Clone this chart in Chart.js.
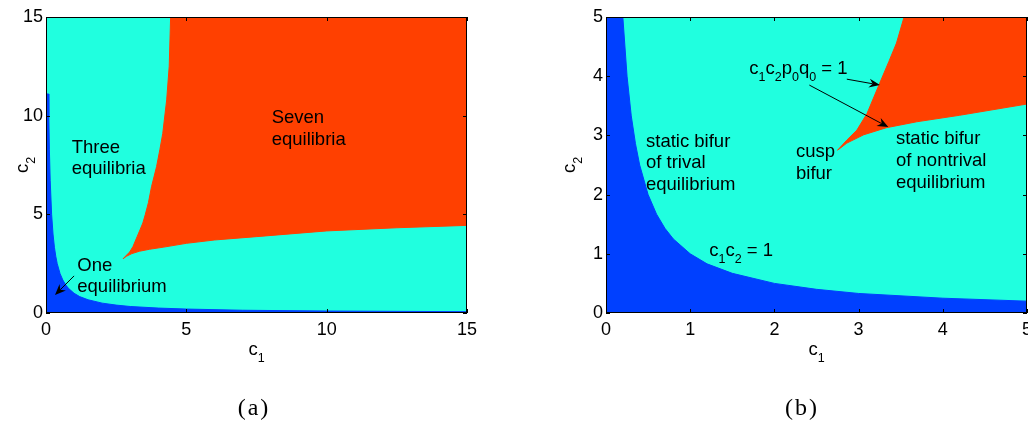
<!DOCTYPE html>
<html>
<head>
<meta charset="utf-8">
<script src="https://cdn.jsdelivr.net/npm/chart.js@4.4.1/dist/chart.umd.min.js"></script>
<style>
html,body{margin:0;padding:0;background:#fff;width:1028px;height:425px;overflow:hidden;position:relative}
canvas{position:absolute;top:0}
#ca{left:0}
#cb{left:560px}
</style>
</head>
<body>
<canvas id="ca" width="500" height="425"></canvas>
<canvas id="cb" width="520" height="425"></canvas>
<script>
// ---------------- data ----------------
const panelCaptions = ['(a)', '(b)'];
const axisMax = [15, 5];
const tickStep = [5, 1];
const gridMax = 15; // extent of the computed parameter map
const colorOne = '#0040FF';
const colorThree = '#20FFDF';
const colorSeven = '#FF4000';

// boundary of the "one equilibrium" region (c1 c2 = 1)
const oneEqC1 = [0, 0.09, 0.1, 0.12, 0.15, 0.2, 0.25, 0.3, 0.35, 0.4, 0.5, 0.6, 0.7, 0.8, 1.0, 1.2, 1.5, 2.0, 2.5, 3.0, 4.0, 5.0, 7.0, 10, 15];
const oneEqC2 = [11.1, 11.1, 10, 8.3, 6.7, 5.0, 4.0, 3.33, 2.86, 2.5, 2.0, 1.67, 1.43, 1.25, 1.0, 0.83, 0.67, 0.5, 0.4, 0.33, 0.25, 0.2, 0.14, 0.1, 0.067];

// boundaries of the "seven equilibria" region, both starting at the cusp
const sevenUpperC1 = [2.75, 2.86, 2.98, 3.10, 3.25, 3.36, 3.45, 3.54, 3.65, 3.76, 3.94, 4.06, 4.16, 4.30, 4.39, 4.44];
const sevenUpperC2 = [2.75, 2.92, 3.09, 3.37, 3.88, 4.25, 4.56, 5.0, 5.6, 6.4, 7.42, 8.3, 9.1, 10.8, 12.5, 15];
const sevenLowerC1 = [2.75, 2.86, 3.06, 3.33, 3.69, 4.2, 5.0, 6.0, 7.5, 10, 12.5, 15];
const sevenLowerC2 = [2.75, 2.87, 3.01, 3.13, 3.23, 3.34, 3.53, 3.70, 3.87, 4.16, 4.32, 4.44];

// ---------------- annotations ----------------
const annotA = {
  labels: [
    {x: 8.04, y: 9.61, lines: ['Seven', 'equilibria']},
    {x: 0.916, y: 8.12, lines: ['Three', 'equilibria']},
    {x: 1.115, y: 2.14, lines: ['One', 'equilibrium']}
  ],
  arrows: [{from: [1.0, 1.88], to: [0.32, 0.91]}],
  yTitleOffset: 18, caption: {text: panelCaptions[0], x: 253}
};
const annotB = {
  labels: [
    {x: 0.475, y: 2.81, lines: ['static bifur', 'of trival', 'equilibrium']},
    {x: 2.257, y: 2.63, lines: ['cusp', 'bifur']},
    {x: 3.444, y: 2.85, lines: ['static bifur', 'of nontrival', 'equilibrium']},
    {x: 1.702, y: 4.03, lines: ['c_1c_2p_0q_0 = 1']},
    {x: 1.227, y: 0.963, lines: ['c_1c_2 = 1']}
  ],
  arrows: [
    {from: [2.86, 3.95], to: [3.254, 3.85]},
    {from: [2.415, 3.85], to: [3.353, 3.14]}
  ],
  yTitleOffset: 31, caption: {text: panelCaptions[1], x: 241}
};

// ---------------- drawing helpers ----------------
const FONT = '"Liberation Sans", Arial, Helvetica, sans-serif';
const SERIF = '"Liberation Serif", "Times New Roman", serif';
const MAIN = 18.5, SUB = 12.5, DROP = 7, LINE_H = 21.7;

function parseRich(s) {
  const parts = [];
  for (let i = 0; i < s.length; i++) {
    if (s[i] === '_') { parts.push({t: s[i + 1], sub: true}); i++; }
    else if (parts.length && !parts[parts.length - 1].sub) parts[parts.length - 1].t += s[i];
    else parts.push({t: s[i], sub: false});
  }
  return parts;
}
function richWidth(ctx, s) {
  let w = 0;
  for (const p of parseRich(s)) { ctx.font = (p.sub ? SUB : MAIN) + 'px ' + FONT; w += ctx.measureText(p.t).width; }
  return w;
}
function drawRich(ctx, s, x, y) {
  let cx = x;
  ctx.textAlign = 'left'; ctx.textBaseline = 'alphabetic';
  for (const p of parseRich(s)) {
    ctx.font = (p.sub ? SUB : MAIN) + 'px ' + FONT;
    ctx.fillText(p.t, cx, y + (p.sub ? DROP : 0));
    cx += ctx.measureText(p.t).width;
  }
}
function drawArrow(ctx, x1, y1, x2, y2) {
  const ang = Math.atan2(y2 - y1, x2 - x1);
  const L = 11, W = 4.5, N = 7.5;
  ctx.beginPath(); ctx.moveTo(x1, y1);
  ctx.lineTo(x2 - N * Math.cos(ang), y2 - N * Math.sin(ang)); ctx.stroke();
  const c = Math.cos(ang), s = Math.sin(ang);
  const bx = x2 - L * c, by = y2 - L * s;
  const nx = x2 - N * c, ny = y2 - N * s;
  ctx.beginPath();
  ctx.moveTo(x2, y2);
  ctx.lineTo(bx - W * s, by + W * c);
  ctx.lineTo(nx, ny);
  ctx.lineTo(bx + W * s, by - W * c);
  ctx.closePath(); ctx.fill();
}

const decor = {
  id: 'decor',
  afterDraw(chart, args, o) {
    const {ctx, chartArea: a, scales: {x, y}} = chart;
    ctx.save();
    ctx.strokeStyle = '#000'; ctx.fillStyle = '#000'; ctx.lineWidth = 1;
    // axes box
    ctx.strokeRect(a.left + 0.5, a.top + 0.5, a.right - a.left - 1, a.bottom - a.top - 1);
    // inward tick marks on all four sides
    ctx.beginPath();
    x.ticks.forEach(t => {
      const px = Math.round(x.getPixelForValue(t.value)) + 0.5;
      ctx.moveTo(px, a.bottom); ctx.lineTo(px, a.bottom - 4);
      ctx.moveTo(px, a.top); ctx.lineTo(px, a.top + 4);
    });
    y.ticks.forEach(t => {
      const py = Math.round(y.getPixelForValue(t.value)) + 0.5;
      ctx.moveTo(a.left, py); ctx.lineTo(a.left + 4, py);
      ctx.moveTo(a.right, py); ctx.lineTo(a.right - 4, py);
    });
    ctx.stroke();
    // text labels
    o.labels.forEach(l => {
      const px = x.getPixelForValue(l.x), py = y.getPixelForValue(l.y);
      l.lines.forEach((s, i) => drawRich(ctx, s, px, py + i * LINE_H));
    });
    // arrows
    o.arrows.forEach(ar => drawArrow(ctx, x.getPixelForValue(ar.from[0]), y.getPixelForValue(ar.from[1]),
      x.getPixelForValue(ar.to[0]), y.getPixelForValue(ar.to[1])));
    // axis titles
    const xt = 'c_1';
    drawRich(ctx, xt, (a.left + a.right) / 2 - richWidth(ctx, xt) / 2, a.bottom + 42);
    const yt = 'c_2';
    ctx.save();
    ctx.translate(a.left - o.yTitleOffset, (a.top + a.bottom) / 2);
    ctx.rotate(-Math.PI / 2);
    drawRich(ctx, yt, -richWidth(ctx, yt) / 2, 0);
    ctx.restore();
    // caption
    ctx.font = '24px ' + SERIF; ctx.textAlign = 'center'; ctx.textBaseline = 'alphabetic';
    if ('letterSpacing' in ctx) ctx.letterSpacing = '2px';
    ctx.fillText(o.caption.text, o.caption.x + 1, 415);
    ctx.restore();
  }
};

function pts(xs, ys) { return xs.map((v, i) => ({x: v, y: ys[i]})); }

function makeChart(id, k, annot, padRight) {
  const m = axisMax[k];
  const background = [{x: 0, y: 0}, {x: m, y: 0}, {x: m, y: m}, {x: 0, y: m}];
  const onePoly = [{x: 0, y: 0}, ...pts(oneEqC1, oneEqC2), {x: oneEqC1[oneEqC1.length - 1], y: 0}];
  const sevenPoly = [...pts(sevenUpperC1, sevenUpperC2), {x: gridMax, y: gridMax},
    ...pts(sevenLowerC1, sevenLowerC2).reverse()];
  const ds = (label, data, color) => ({label, data, showLine: true, fill: 'shape',
    backgroundColor: color, borderColor: color, borderWidth: 1, pointRadius: 0, tension: 0});
  const tickFont = {family: FONT, size: 18};
  return new Chart(document.getElementById(id), {
    type: 'scatter',
    data: {datasets: [
      ds('Seven equilibria', sevenPoly, colorSeven),
      ds('One equilibrium', onePoly, colorOne),
      ds('Three equilibria', background, colorThree)
    ]},
    options: {
      responsive: false, animation: false, devicePixelRatio: 1, events: [],
      layout: {padding: {top: 17, right: padRight, bottom: 0, left: 0}},
      plugins: {legend: {display: false}, tooltip: {enabled: false}, decor: annot},
      scales: {
        x: {type: 'linear', min: 0, max: m,
          ticks: {stepSize: tickStep[k], color: '#000', font: tickFont, padding: 6, maxRotation: 0, autoSkip: false},
          grid: {display: false, drawTicks: false}, border: {display: false},
          afterFit(s) { s.height = 425 - 313; }},
        y: {type: 'linear', min: 0, max: m,
          ticks: {stepSize: tickStep[k], color: '#000', font: tickFont, padding: 3, autoSkip: false},
          grid: {display: false, drawTicks: false}, border: {display: false},
          afterFit(s) { s.width = 46; }}
      }
    },
    plugins: [decor]
  });
}

makeChart('ca', 0, annotA, 33);
makeChart('cb', 1, annotB, 53);
</script>
</body>
</html>
